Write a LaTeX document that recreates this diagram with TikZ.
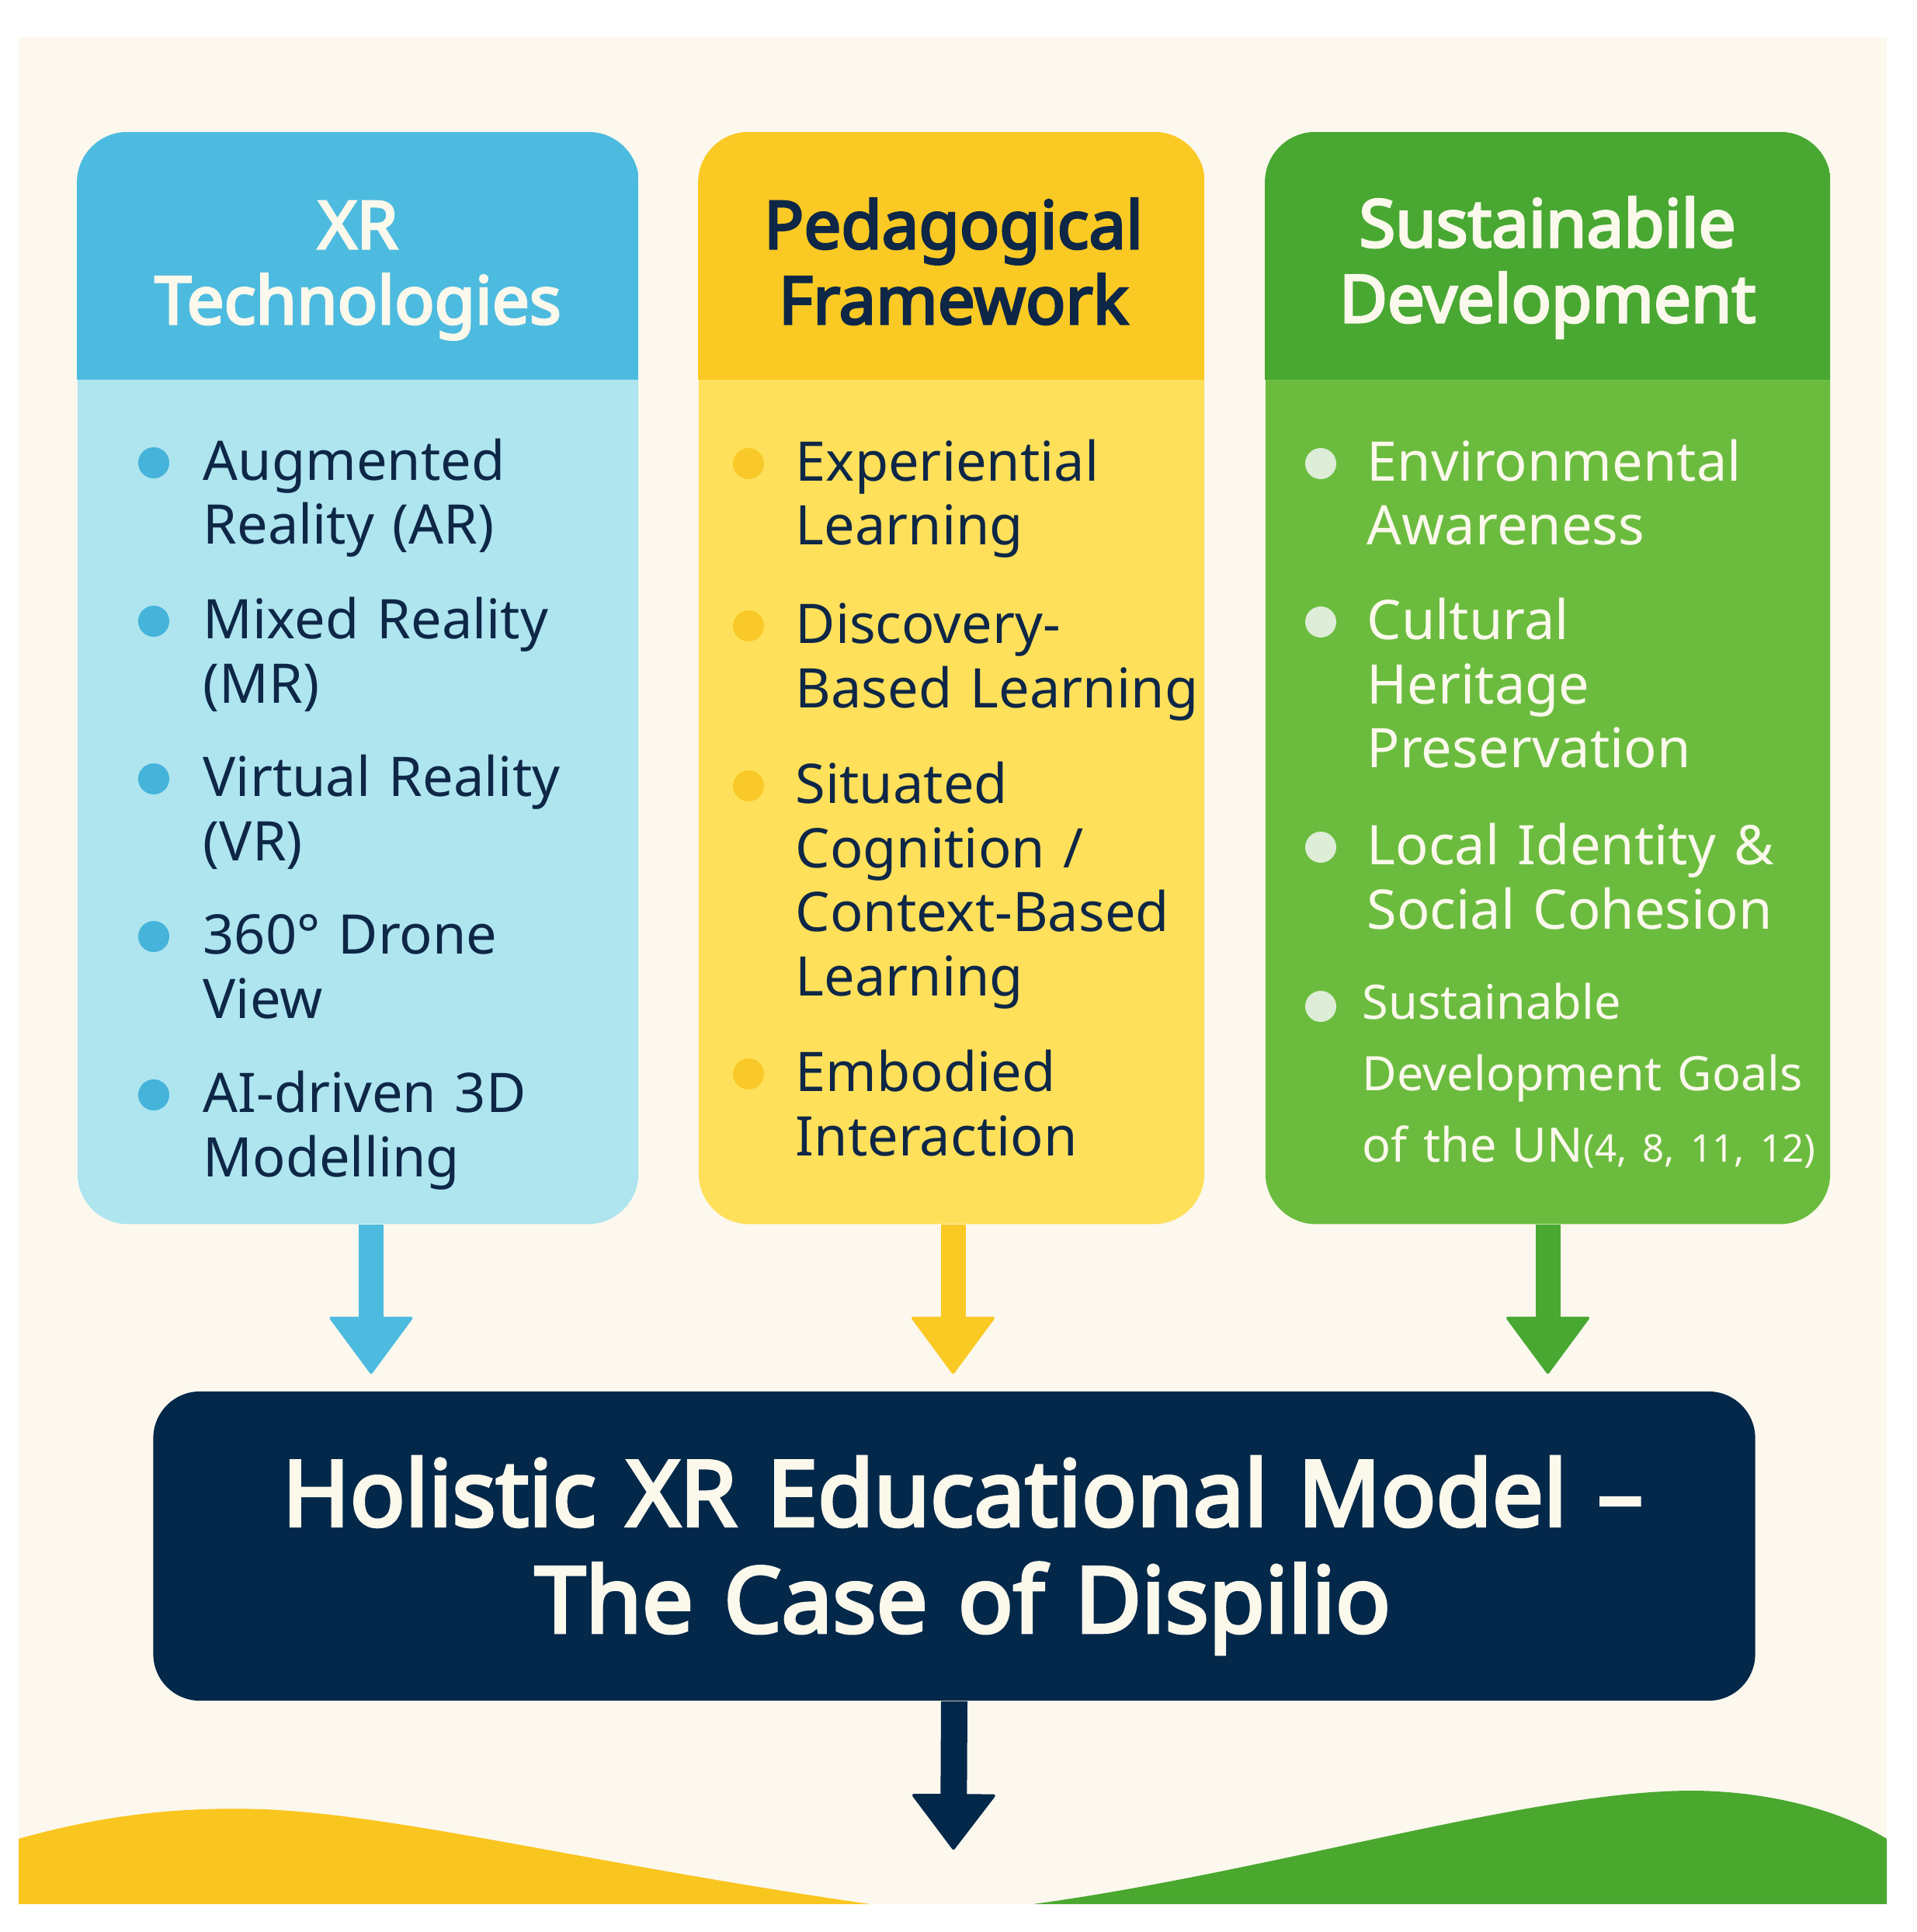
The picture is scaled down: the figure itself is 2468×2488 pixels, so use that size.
\documentclass[tikz,border=0pt]{standalone}
\usepackage{fontspec}
\setmainfont{Noto Sans}
\newfontfamily\boldfam{Noto Sans}[FakeBold=3.6]
\usetikzlibrary{arrows.meta}
\definecolor{bgcream}{HTML}{FCF8EE}
\definecolor{blueh}{HTML}{4DBBDF}
\definecolor{blueb}{HTML}{AEE5EF}
\definecolor{bluedot}{HTML}{45B3DA}
\definecolor{yellowh}{HTML}{FAC923}
\definecolor{yellowb}{HTML}{FFE05A}
\definecolor{yellowdot}{HTML}{F8C928}
\definecolor{greenh}{HTML}{48A832}
\definecolor{greenb}{HTML}{6BBC3E}
\definecolor{greendot}{HTML}{DDEDD8}
\definecolor{navy}{HTML}{03284A}
\definecolor{textdark}{HTML}{0E2747}
\definecolor{creamtext}{HTML}{FBF8EC}
\definecolor{wavey}{HTML}{F9C51F}
\definecolor{waveg}{HTML}{4AA82F}
\newcommand{\bodyfont}{\fontsize{20pt}{23.6pt}\selectfont}
\newcommand{\headfont}{\boldfam\fontsize{24.2pt}{27.6pt}\selectfont}
\newcommand{\titlefont}{\boldfam\fontsize{33.4pt}{39pt}\selectfont}
\newcommand{\smallitemfont}{\fontsize{17.4pt}{26.2pt}\selectfont}
\begin{document}
\begin{tikzpicture}[x=0.01cm,y=-0.01cm,
  colbox/.style={rectangle, rounded corners=0.65cm, inner sep=0pt, draw=none},
  headtext/.style={anchor=base, inner sep=0pt, text width=7cm, align=center, font=\headfont},
  itemtext/.style={anchor=base west, inner sep=0pt, text width=6.2cm, align=left, font=\bodyfont},
  dot/.style={circle, minimum size=0.4cm, inner sep=0pt, draw=none},
  arr/.style={line width=0.32cm, shorten >=0.22cm,
    -{Triangle[width=1.1cm,length=0.75cm,line width=0.04cm,round]}},
]
\useasboundingbox (0,0) rectangle (2468,2488);
\fill[white] (0,0) rectangle (2468,2488);
\fill[bgcream] (24,48) rectangle (2430,2452);
% waves
\fill[wavey] (24,2452) -- (24,2368) .. controls (130,2338) and (230,2326) .. (341,2330)
  .. controls (520,2338) and (760,2400) .. (1120,2452) -- cycle;
\fill[waveg] (1331,2452) .. controls (1640,2410) and (1980,2304) .. (2185,2306)
  .. controls (2300,2308) and (2385,2340) .. (2430,2368) -- (2430,2452) -- cycle;

% column boxes
\node[colbox, fill=blueb, minimum width=7.22cm, minimum height=14.05cm] (col1) at (461,873.5) {};
\node[colbox, fill=yellowb, minimum width=6.51cm, minimum height=14.05cm] (col2) at (1225.5,873.5) {};
\node[colbox, fill=greenb, minimum width=7.27cm, minimum height=14.05cm] (col3) at (1993.5,873.5) {};
\coordinate (h1) at (822,489);
\coordinate (h2) at (1551,489);
\coordinate (h3) at (2357,489);
\begin{scope}
  \clip[rounded corners=0.65cm] (col1.north west) rectangle (col1.south east);
  \fill[blueh] (col1.north west) rectangle (h1);
\end{scope}
\begin{scope}
  \clip[rounded corners=0.65cm] (col2.north west) rectangle (col2.south east);
  \fill[yellowh] (col2.north west) rectangle (h2);
\end{scope}
\begin{scope}
  \clip[rounded corners=0.65cm] (col3.north west) rectangle (col3.south east);
  \fill[greenh] (col3.north west) rectangle (h3);
\end{scope}

% headers
\node[headtext, text=creamtext] (hd1) at (461,320) {XR\\Technologies};
\node[headtext, text=textdark] (hd2) at (1228,320) {Pedagogical\\Framework};
\node[headtext, text=creamtext] (hd3) at (1993,318) {Sustainabile\\Development};

% column 1 items
\node[dot, fill=bluedot] (b11) at (198,596) {};
\node[dot, fill=bluedot] (b12) at (198,800) {};
\node[dot, fill=bluedot] (b13) at (198,1003) {};
\node[dot, fill=bluedot] (b14) at (198,1206) {};
\node[dot, fill=bluedot] (b15) at (198,1410) {};
\node[itemtext, text=textdark] (t11) at (261,618) {Augmented\\Reality (AR)};
\node[itemtext, text=textdark] (t12) at (261,822) {Mixed Reality\\(MR)};
\node[itemtext, text=textdark] (t13) at (261,1025) {Virtual Reality\\(VR)};
\node[itemtext, text=textdark] (t14) at (261,1228) {360° Drone\\View};
\node[itemtext, text=textdark] (t15) at (261,1432) {AI-driven 3D\\Modelling};

% column 2 items
\node[dot, fill=yellowdot] (b21) at (964,597) {};
\node[dot, fill=yellowdot] (b22) at (964,806) {};
\node[dot, fill=yellowdot] (b23) at (964,1012) {};
\node[dot, fill=yellowdot] (b24) at (964,1383) {};
\node[itemtext, text=textdark] (t21) at (1024,619) {Experiential\\Learning};
\node[itemtext, text=textdark] (t22) at (1024,828) {Discovery-\\Based Learning};
\node[itemtext, text=textdark] (t23) at (1024,1034) {Situated\\Cognition /\\Context-Based\\Learning};
\node[itemtext, text=textdark] (t24) at (1024,1405) {Embodied\\Interaction};

% column 3 items
\node[dot, fill=greendot] (b31) at (1701,597) {};
\node[dot, fill=greendot] (b32) at (1701,801) {};
\node[dot, fill=greendot] (b33) at (1701,1091) {};
\node[dot, fill=greendot] (b34) at (1701,1296) {};
\node[itemtext, text=creamtext] (t31) at (1760,619) {Environmental\\Awareness};
\node[itemtext, text=creamtext] (t32) at (1760,823) {Cultural\\Heritage\\Preservation};
\node[itemtext, text=creamtext] (t33) at (1760,1113) {Local Identity \&\\Social Cohesion};
\node[itemtext, text=creamtext, font=\smallitemfont] (t34) at (1754,1312)
  {Sustainable\\Development Goals\\of the UN{\fontsize{14pt}{26.2pt}\selectfont(4, 8, 11, 12)}};

% model box
\node[colbox, rounded corners=0.6cm, fill=navy, minimum width=20.62cm, minimum height=3.98cm] (model) at (1229,1991) {};
\node[anchor=base, inner sep=0pt, text width=20cm, align=center, font=\titlefont, text=creamtext] (title) at (1240,1965)
  {Holistic XR Educational Model –\\The Case of Dispilio};

% arrows
\draw[arr, draw=blueh, fill=blueh] ([xshift=0.17cm]col1.south) -- ([xshift=0.17cm]col1.south |- model.north);
\draw[arr, draw=yellowh, fill=yellowh] ([xshift=0.02cm]col2.south) -- ([xshift=0.02cm]col2.south |- model.north);
\draw[arr, draw=greenh, fill=greenh] (col3.south) -- (col3.south |- model.north);
\coordinate (outend) at (1228,2382);
\draw[line width=0.34cm, draw=navy, fill=navy,
  -{Triangle[width=1.1cm,length=0.73cm,line width=0.04cm,round]}] (model.south) -- (outend);
\end{tikzpicture}
\end{document}
